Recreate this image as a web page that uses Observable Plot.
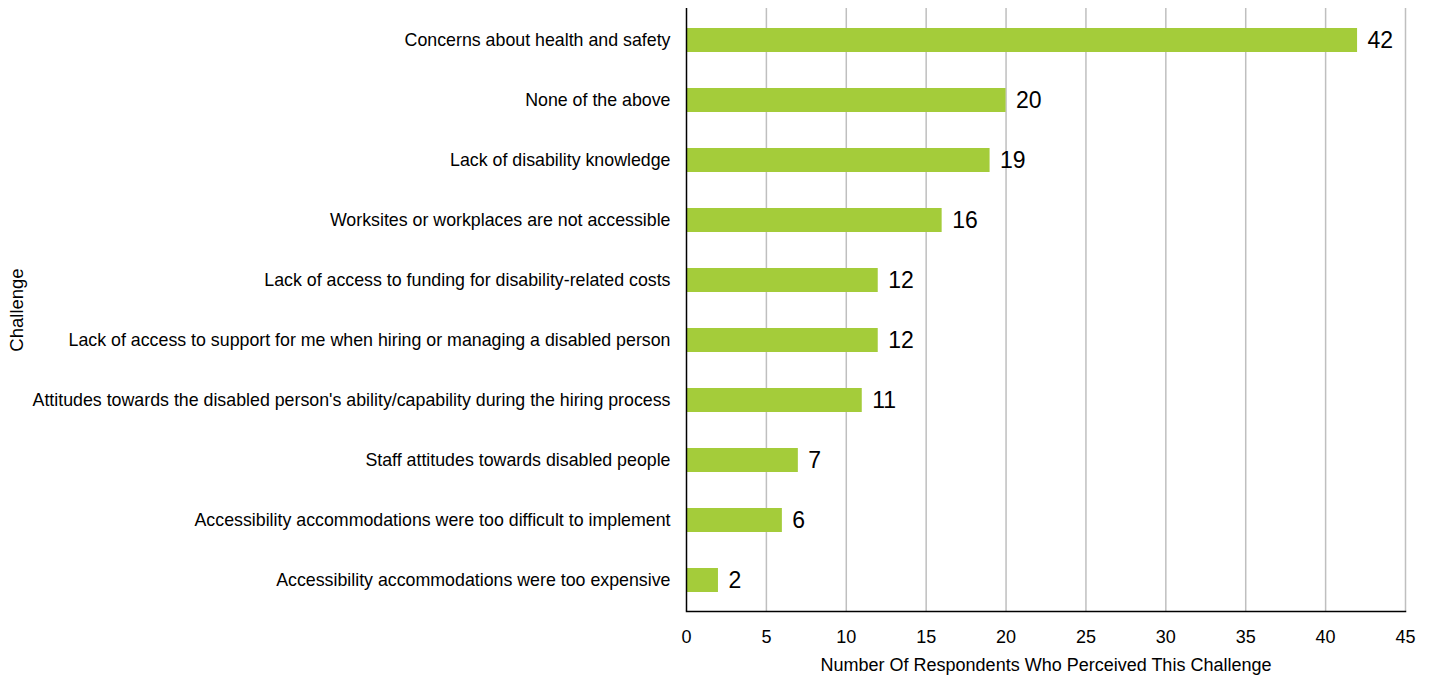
<!DOCTYPE html>
<html>
<head>
<meta charset="utf-8">
<script src="https://cdn.jsdelivr.net/npm/d3@7"></script>
<script src="https://cdn.jsdelivr.net/npm/@observablehq/plot@0.6"></script>
<style>
  html, body { margin: 0; padding: 0; background: #ffffff; }
  #chart svg { display: block; font-family: "Liberation Sans", Arial, sans-serif; }
</style>
</head>
<body>
<div id="chart"></div>
<script>
const categories = [
  "Concerns about health and safety",
  "None of the above",
  "Lack of disability knowledge",
  "Worksites or workplaces are not accessible",
  "Lack of access to funding for disability-related costs",
  "Lack of access to support for me when hiring or managing a disabled person",
  "Attitudes towards the disabled person's ability/capability during the hiring process",
  "Staff attitudes towards disabled people",
  "Accessibility accommodations were too difficult to implement",
  "Accessibility accommodations were too expensive"
];
const values = [42, 20, 19, 16, 12, 12, 11, 7, 6, 2];
const xTicks = [0, 5, 10, 15, 20, 25, 30, 35, 40, 45];
const xLabel = "Number Of Respondents Who Perceived This Challenge";
const yLabel = "Challenge";

const data = categories.map((c, i) => ({category: c, value: values[i]}));

const chart = Plot.plot({
  width: 1435,
  height: 679,
  marginLeft: 686,
  marginRight: 30,
  marginTop: 8,
  marginBottom: 68,
  style: {fontFamily: "Liberation Sans, Arial, sans-serif", background: "#ffffff", color: "#000000"},
  x: {domain: [0, 45], ticks: xTicks},
  y: {domain: categories, paddingInner: 0.6, paddingOuter: 0.3},
  marks: [
    Plot.gridX(xTicks.filter(d => d > 0), {stroke: "#bfbfbf", strokeOpacity: 1, strokeWidth: 1.5}),
    Plot.barX(data, {x: "value", y: "category", fill: "#a4cc3a"}),
    Plot.ruleX([0], {stroke: "#000000", strokeWidth: 1.5}),
    Plot.frame({anchor: "bottom", stroke: "#000000", strokeWidth: 1.5}),
    Plot.axisX(xTicks, {tickSize: 0, tickPadding: 19, fontSize: 18, label: null, fill: "#000"}),
    Plot.axisY({tickSize: 0, tickPadding: 16, fontSize: 17.8, label: null, fill: "#000"}),
    Plot.text(data, {x: "value", y: "category", text: d => String(d.value), dx: 10, textAnchor: "start", fontSize: 23, fill: "#000"}),
    Plot.text([xLabel], {frameAnchor: "bottom", dy: 54, fontSize: 18, fill: "#000", lineAnchor: "middle"}),
    Plot.text([yLabel], {frameAnchor: "left", dx: -669, rotate: -90, textAnchor: "middle", fontSize: 18.5, fill: "#000"})
  ]
});
document.getElementById("chart").appendChild(chart);
</script>
</body>
</html>
